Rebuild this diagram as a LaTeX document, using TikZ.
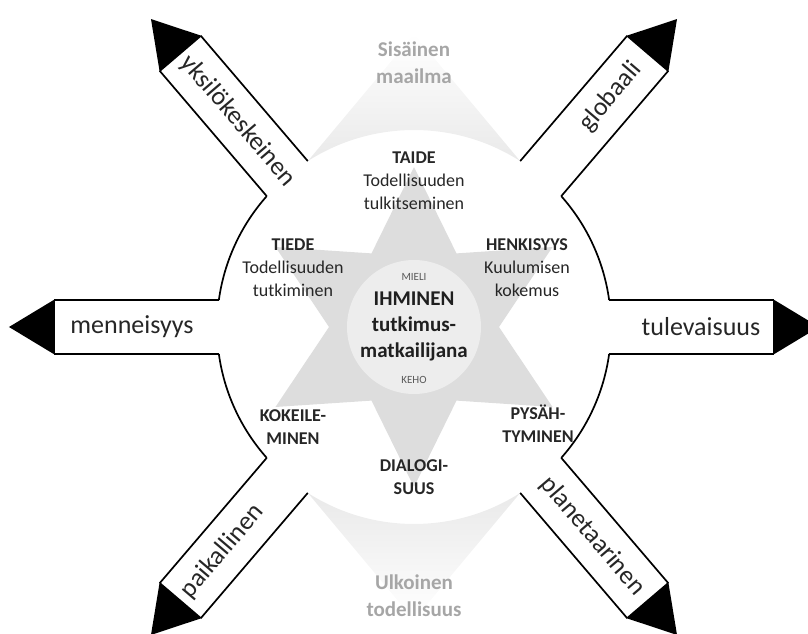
\documentclass[tikz,border=0pt]{standalone}
\usepackage{fontspec}
\setmainfont{Carlito}
\usepackage{tikz}

\begin{document}
\begin{tikzpicture}[x=1pt,y=1pt,
outline/.style={draw=black,line width=1.7pt},
head/.style={fill=black},
dirlabel/.style={font=\fontsize{26}{30}\selectfont,text=black!85},
theme/.style={font=\fontsize{18}{23}\selectfont,text=black!85,align=center},
world/.style={font=\fontsize{21}{27}\selectfont\bfseries,text=black!35,align=center},
core/.style={font=\fontsize{21}{26}\selectfont\bfseries,text=black!88,align=center},
tiny/.style={font=\fontsize{11}{13}\selectfont,text=black!65}]
\tikzstyle{every node}=[inner sep=0pt]

\useasboundingbox (-414,-307) rectangle (394,327);

\shade[top color=white,bottom color=gray!17] (0,293) -- (122.62:197) arc (122.62:57.38:197) -- cycle;
\shade[top color=gray!17,bottom color=white] (0,-293) -- (-122.62:197) arc (-122.62:-57.38:197) -- cycle;

\fill[gray!27] (90:160) -- (120:85) -- (150:160) -- (180:85) -- (210:160) -- (240:85)
  -- (270:160) -- (300:85) -- (330:160) -- (0:85) -- (30:160) -- (60:85) -- cycle;
\fill[gray!14] (0,0) circle (67);

\draw[outline] (138.38:197) arc (138.38:172.12:197);
\draw[outline] (187.88:197) arc (187.88:221.62:197);
\draw[outline] (7.88:197) arc (7.88:41.62:197);
\draw[outline] (-7.88:197) arc (-7.88:-41.62:197);

\foreach \ang/\rot/\pos/\nm/\lbl in {180/0/282/past/menneisyys, 0/0/287/future/tulevaisuus,
  130.5/-49.5/271/self/yksilökeskeinen, 49.5/49.5/303/global/globaali,
  229.5/49.5/295/local/paikallinen, -49.5/-49.5/275/planet/planetaarinen}{
  \begin{scope}[rotate=\ang]
    \draw[outline] (195.14,27) -- (360,27) (195.14,-27) -- (360,-27);
    \fill[head] (359,27.8) -- (405,0) -- (359,-27.8) -- cycle;
    \node[dirlabel,rotate=\rot] (\nm) at (\pos,0) {\lbl};
  \end{scope}
}

\node[world] (sisainen) at (0,264) {Sisäinen\\maailma};
\node[world] (ulkoinen) at (0,-269) {Ulkoinen\\todellisuus};

\node[theme] (taide) at (0,146) {\textbf{TAIDE}\\Todellisuuden\\tulkitseminen};
\node[theme] (tiede) at (-121,59) {\textbf{TIEDE}\\Todellisuuden\\tutkiminen};
\node[theme] (henkisyys) at (113,59) {\textbf{HENKISYYS}\\Kuulumisen\\kokemus};
\node[theme,font=\fontsize{18}{23}\selectfont\bfseries] (kokeile) at (-121,-100) {KOKEILE-\\MINEN};
\node[theme,font=\fontsize{18}{23}\selectfont\bfseries] (pysah) at (124,-97) {PYSÄH-\\TYMINEN};
\node[theme,font=\fontsize{18}{23}\selectfont\bfseries] (dialogi) at (0,-150) {DIALOGI-\\SUUS};

\node[core] (ihminen) at (0,1) {IHMINEN\\tutkimus-\\matkailijana};
\node[tiny] (mieli) at (0,50) {MIELI};
\node[tiny] (keho) at (0,-53) {KEHO};
\end{tikzpicture}
\end{document}
